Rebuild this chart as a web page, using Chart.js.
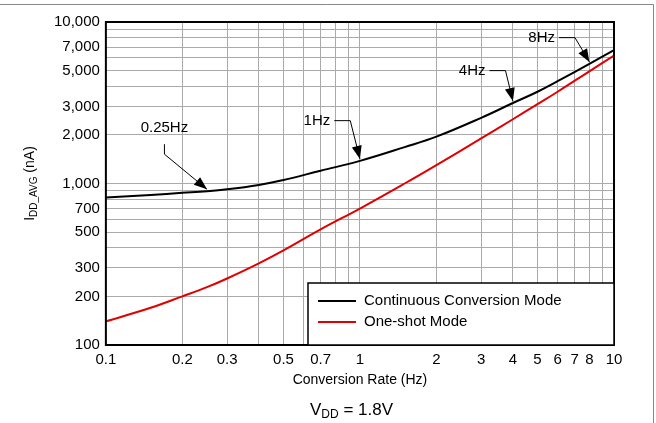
<!DOCTYPE html>
<html><head><meta charset="utf-8">
<script src="https://cdn.jsdelivr.net/npm/chart.js@4"></script>
<style>body{margin:0;background:#fff}#wrap{width:656px;height:423px}</style>
</head><body><div id="wrap"><canvas id="c"></canvas></div>
<script>
// Daten
const rates = [0.1, 0.15, 0.2, 0.25, 0.3, 0.4, 0.5, 0.7, 1, 1.5, 2, 3, 4, 5, 6, 8, 10];
const continuous = [820, 850, 875, 895, 920, 980, 1050, 1200, 1380, 1680, 1950, 2550, 3150, 3700, 4300, 5500, 6700];
const oneShot = [140, 170, 200, 228, 258, 320, 385, 520, 700, 1000, 1300, 1900, 2500, 3100, 3700, 4950, 6200];
const xLabels = [0.1, 0.2, 0.3, 0.5, 0.7, 1, 2, 3, 4, 5, 6, 7, 8, 10];
const yLabels = [100, 200, 300, 500, 700, 1000, 2000, 3000, 5000, 7000, 10000];
// Pfeile: [Text, Textpos x, Textpos y (Datenwerte), Ziel x, Ziel y]
const arrows = [
  ['0.25Hz', 0.17, 2200, 0.25, 895],
  ['1Hz', 0.6, 2450, 1, 1380],
  ['4Hz', 2.45, 5000, 4, 3150],
  ['8Hz', 4.6, 8000, 8, 5500]
];

function allTicks(min, max) {
  const t = [];
  for (let d = min; d < max; d *= 10) for (let k = 1; k < 10; k++) t.push(+(d * k).toPrecision(3));
  t.push(max);
  return t;
}

const FONT = 'Arial, "Liberation Sans"';

const deco = {
  id: 'deco',
  afterDraw(chart) {
    const ctx = chart.ctx, a = chart.chartArea, xs = chart.scales.x, ys = chart.scales.y;
    ctx.save();
    // Rahmen
    ctx.strokeStyle = '#000'; ctx.lineWidth = 2;
    ctx.strokeRect(a.left, a.top, a.right - a.left, a.bottom - a.top);
    ctx.strokeStyle = '#888'; ctx.lineWidth = 1;
    ctx.beginPath(); ctx.moveTo(0, 4.5); ctx.lineTo(653.5, 4.5); ctx.lineTo(653.5, 423); ctx.stroke();
    // Pfeile
    ctx.fillStyle = '#000'; ctx.strokeStyle = '#000'; ctx.font = '15px ' + FONT;
    ctx.textBaseline = 'middle';
    arrows.forEach(([txt, tx, ty, px, py]) => {
      const x0 = xs.getPixelForValue(tx), y0 = ys.getPixelForValue(ty);
      const x1 = xs.getPixelForValue(px), y1 = ys.getPixelForValue(py) - 2;
      const w = ctx.measureText(txt).width;
      let ex, ey;
      ctx.lineWidth = 1;
      ctx.beginPath();
      if (txt === '0.25Hz') {
        ctx.fillText(txt, x0 - w / 2, y0);
        ex = x0; ey = y0 + 16;
        ctx.moveTo(ex, ey); ctx.lineTo(ex, ey + 10);
        ey += 10;
      } else {
        ctx.fillText(txt, x0, y0);
        ex = x0 + w + 4; ey = y0;
        ctx.moveTo(ex, ey); ctx.lineTo(ex + 16, ey);
        ex += 16;
      }
      ctx.lineTo(x1, y1); ctx.stroke();
      const ang = Math.atan2(y1 - ey, x1 - ex);
      ctx.beginPath();
      ctx.moveTo(x1, y1);
      ctx.lineTo(x1 - 13 * Math.cos(ang) + 5 * Math.sin(ang), y1 - 13 * Math.sin(ang) - 5 * Math.cos(ang));
      ctx.lineTo(x1 - 13 * Math.cos(ang) - 5 * Math.sin(ang), y1 - 13 * Math.sin(ang) + 5 * Math.cos(ang));
      ctx.closePath(); ctx.fill();
    });
    // Legende
    const lx = 308, ly = 283, lw = a.right - lx, lh = a.bottom - ly;
    ctx.fillStyle = '#fff'; ctx.fillRect(lx, ly, lw, lh);
    ctx.lineWidth = 1.5; ctx.strokeRect(lx, ly, lw, lh);
    [['Continuous Conversion Mode', '#000'], ['One-shot Mode', '#e00000']].forEach(([t, c], i) => {
      const yy = ly + 18 + i * 21;
      ctx.strokeStyle = c; ctx.lineWidth = 2;
      ctx.beginPath(); ctx.moveTo(lx + 10, yy); ctx.lineTo(lx + 48, yy); ctx.stroke();
      ctx.fillStyle = '#000'; ctx.fillText(t, lx + 56, yy);
    });
    // Achsentitel
    ctx.font = '14px ' + FONT;
    ctx.textAlign = 'center';
    ctx.fillText('Conversion Rate (Hz)', (a.left + a.right) / 2, 380);
    // V_DD = 1.8V
    ctx.textAlign = 'left'; ctx.font = '17px ' + FONT;
    const cx = 310;
    ctx.fillText('V', cx, 410);
    let w = ctx.measureText('V').width;
    ctx.font = '12px ' + FONT;
    ctx.fillText('DD', cx + w, 415);
    w += ctx.measureText('DD').width;
    ctx.font = '17px ' + FONT;
    ctx.fillText(' = 1.8V', cx + w, 410);
    // y-Titel
    ctx.translate(30, (a.top + a.bottom) / 2); ctx.rotate(-Math.PI / 2);
    const parts = [['I', 14, 0], ['DD_AVG', 10, 4], [' (nA)', 14, 0]];
    let tot = 0;
    parts.forEach(p => { ctx.font = p[1] + 'px ' + FONT; tot += ctx.measureText(p[0]).width; });
    let px = -tot / 2;
    parts.forEach(p => { ctx.font = p[1] + 'px ' + FONT; ctx.fillText(p[0], px, p[2]); px += ctx.measureText(p[0]).width; });
    ctx.restore();
  }
};

new Chart(document.getElementById('c'), {
  type: 'line',
  data: {
    labels: rates,
    datasets: [
      { label: 'Continuous Conversion Mode', data: rates.map((r, i) => ({ x: r, y: continuous[i] })), borderColor: '#000', borderWidth: 2, pointRadius: 0, tension: 0.4 },
      { label: 'One-shot Mode', data: rates.map((r, i) => ({ x: r, y: oneShot[i] })), borderColor: '#e00000', borderWidth: 2, pointRadius: 0, tension: 0.4 }
    ]
  },
  options: {
    responsive: true, maintainAspectRatio: false, animation: false,
    layout: { padding: { left: 48, right: 42, top: 22, bottom: 48 } },
    plugins: { legend: { display: false }, tooltip: { enabled: false } },
    scales: {
      x: {
        type: 'logarithmic', min: 0.1, max: 10,
        afterBuildTicks: s => { s.ticks = allTicks(0.1, 10).map(v => ({ value: v })); },
        grid: { color: '#aaa', drawTicks: false },
        border: { display: false },
        ticks: { color: '#000', font: { size: 15, family: FONT }, padding: 6, maxRotation: 0, autoSkip: false,
          callback: v => xLabels.includes(+(+v).toPrecision(3)) ? String(+(+v).toPrecision(3)) : '' }
      },
      y: {
        type: 'logarithmic', min: 100, max: 10000,
        afterBuildTicks: s => { s.ticks = allTicks(100, 10000).map(v => ({ value: v })); },
        grid: { color: '#aaa', drawTicks: false },
        border: { display: false },
        ticks: { color: '#000', font: { size: 15, family: FONT }, padding: 6, autoSkip: false,
          callback: v => yLabels.includes(+v) ? (+v).toLocaleString('en-US') : '' }
      }
    }
  },
  plugins: [deco]
});
</script></body></html>
